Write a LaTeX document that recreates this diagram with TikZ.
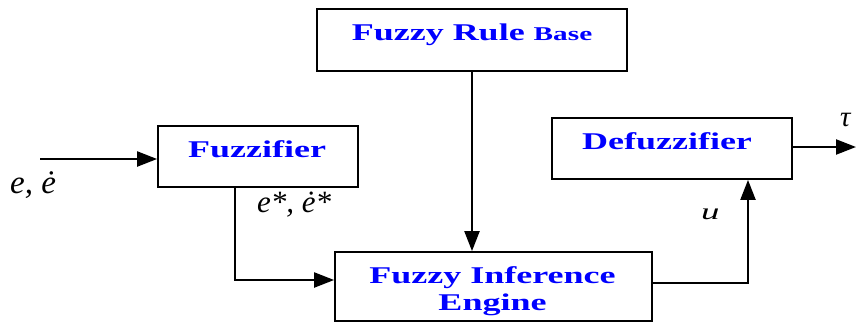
\documentclass[tikz,border=0pt]{standalone}
\usepackage{fontspec}
\setmainfont{Liberation Serif}
\usetikzlibrary{arrows.meta}
\begin{document}
\begin{tikzpicture}[x=1pt,y=-1pt,
  box/.style={draw, line width=1.8pt, inner sep=0pt},
  lbl/.style={anchor=base, inner sep=0pt, text=blue, font=\fontsize{24}{27}\selectfont\bfseries},
  mlab/.style={anchor=base west, inner sep=0pt, font=\fontsize{33}{36}\selectfont\itshape},
  conn/.style={line width=2.2pt, -{Triangle[length=20pt,width=15pt]}}]
\useasboundingbox (0,0) rectangle (856,324);
% boxes
\node[box, minimum width=310pt, minimum height=62pt] (rb) at (472,40) {};
\node[box, minimum width=200pt, minimum height=61pt] (fz) at (258,156.5) {};
\node[box, minimum width=240pt, minimum height=61pt] (dz) at (672,148.5) {};
\node[box, minimum width=317pt, minimum height=69pt] (ie) at (493.5,286.5) {};
% labels
\node[lbl] (rbt) at (472,40) {\scalebox{1.5}[1]{Fuzzy Rule {\fontsize{19.5}{20}\selectfont Base}}};
\node[lbl] (fzt) at (257,157) {\scalebox{1.5}[1]{Fuzzifier}};
\node[lbl] (dzt) at (667,149) {\scalebox{1.5}[1]{Defuzzifier}};
\node[lbl] (iet1) at (492.5,283) {\scalebox{1.5}[1]{Fuzzy Inference}};
\node[lbl] (iet2) at (492.5,310) {\scalebox{1.5}[1]{Engine}};
% signal labels
\node[mlab] (ein) at (10,193) {e, ė};
\node[mlab, font=\fontsize{31}{34}\selectfont\itshape] (estar) at (257,212) {e*, ė*};
\node[mlab, font=\fontsize{23}{24}\selectfont\itshape] (ul) at (701,219) {\scalebox{1.6}[1]{u}};
\node[mlab, font=\fontsize{29}{30}\selectfont\itshape] (tl) at (840,126) {τ};
% connectors
\coordinate (in0) at (40,159);
\draw[conn] (in0) -- (fz.west |- in0);
\coordinate (fzb) at (235,187);
\coordinate (iein) at (235,280);
\draw[conn] (fz.south -| fzb) -- (iein) -- (ie.west |- iein);
\draw[conn] (rb.south) -- (ie.north -| rb.south);
\coordinate (ieo) at (652,283);
\coordinate (up) at (748,283);
\draw[conn] (ie.east |- ieo) -- (up) -- (dz.south -| up);
\coordinate (out) at (856,147);
\draw[conn] (dz.east |- out) -- (out);
\end{tikzpicture}
\end{document}
